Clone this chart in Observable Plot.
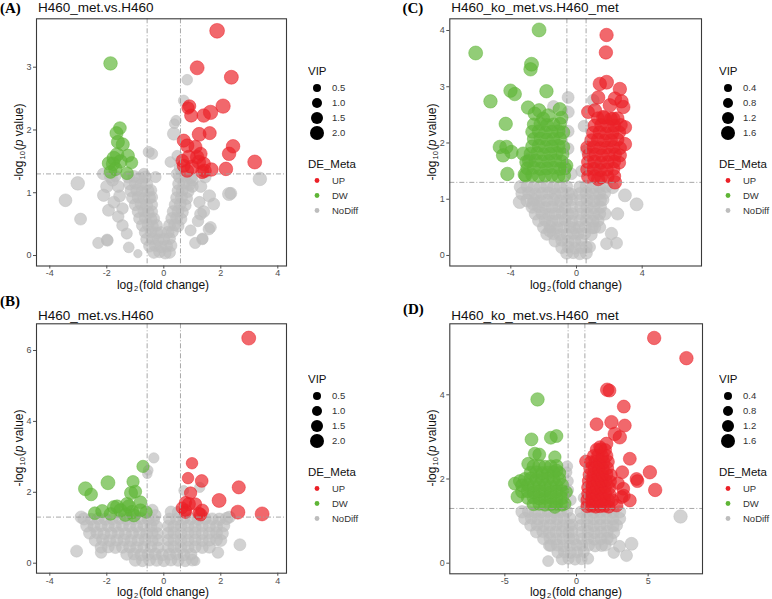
<!DOCTYPE html>
<html><head><meta charset="utf-8">
<script src="https://cdn.jsdelivr.net/npm/d3@7"></script>
<script src="https://cdn.jsdelivr.net/npm/@observablehq/plot@0.6"></script>
<style>
body{margin:0;background:#fff;font-family:"Liberation Sans",Arial,Helvetica,sans-serif;}
#root{position:relative;width:772px;height:599px;overflow:hidden;background:#fff;}
.abs{position:absolute;white-space:nowrap;line-height:1;}
.plab{font-family:"Liberation Serif","Times New Roman",serif;font-weight:bold;font-size:15px;color:#000;transform:translateY(-50%);}
.ttl{font-size:13.5px;color:#111;transform:translateY(-50%);}
.xl{font-size:12px;color:#111;transform:translate(-50%,-50%);}
.yl{font-size:12px;color:#111;transform:translate(-50%,-50%) rotate(-90deg);}
sub{font-size:7.5px;vertical-align:-2px;margin:0 1px;}
</style></head><body><div id="root"></div>
<script>
// ---------- shared ----------
const FC_CUTOFFS = [-0.585, 0.585];
const P_CUTOFF = [1.3];
const DE_LEVELS = ["UP", "DW", "NoDiff"];
const DE_COLORS = ["#EB2027", "#5FB536", "#BDBDBD"];

// ---------- Panel A ----------
const A_TITLE = "H460_met.vs.H460";
const A_X_TICKS = [-4, -2, 0, 2, 4];
const A_Y_TICKS = [0, 1, 2, 3];
const A_VIP_TICKS = [0.5, 1.0, 1.5, 2.0];
const A_UP = [[1.87,3.58,2.2],[1.17,2.99,2.0],[2.37,2.84,2.0],[0.85,2.35,1.6],[0.9,2.38,1.7],[0.96,2.23,1.8],[1.40,2.23,1.9],[1.64,2.28,2.1],[2.08,2.38,2.1],[1.24,1.93,2.0],[1.61,1.95,1.8],[2.43,1.74,1.9],[2.29,1.62,1.9],[3.19,1.49,2.0],[2.18,1.38,1.9],[0.70,1.83,1.8],[0.82,1.75,1.9],[0.88,1.57,1.9],[1.17,1.57,1.9],[1.23,1.49,1.9],[0.70,1.43,1.8],[0.99,1.41,2.0],[1.40,1.46,1.9],[1.67,1.37,1.9],[1.35,1.33,1.8],[1.11,1.73,1.8],[1.29,1.62,1.8],[1.43,1.35,1.9],[0.65,1.51,1.7],[0.82,1.35,1.8]];
const A_DW = [[-1.87,3.06,1.9],[-1.54,2.03,1.7],[-1.66,1.95,1.8],[-1.61,1.81,1.8],[-1.44,1.77,1.8],[-1.64,1.61,1.9],[-1.26,1.59,1.8],[-1.78,1.46,1.9],[-1.93,1.47,1.8],[-1.52,1.50,1.9],[-1.13,1.48,1.6],[-1.70,1.38,1.9],[-1.29,1.31,1.7],[-1.87,1.33,1.7],[-1.75,1.55,2.0]];
const A_NODIFF = [[-3.02,1.15,1.9],[-3.45,0.88,1.7],[-2.92,0.58,1.5],[-2.30,0.20,1.3],[-1.99,0.25,1.4],[-1.23,0.13,1.2],[-0.91,0.03,0.6],[3.37,1.22,1.9],[2.29,0.98,1.8],[1.35,0.26,1.3],[1.58,0.42,1.4],[1.29,0.66,1.5],[0.82,2.80,1.2],[0.70,2.47,1.2],[0.43,2.15,1.1],[0.37,2.10,1.0],[0.35,1.94,1.7],[-0.53,1.65,1.3],[-0.41,1.62,1.3],[0.47,1.59,1.2],[0.23,1.49,1.2],[-2.13,1.30,1.4],[-1.87,1.25,1.5],[-0.70,1.30,1.3],[-0.29,1.25,1.3],[0.55,1.4,1.2],[0.45,1.3,1.2],
[-2.11,0.96,1.6],[-1.94,0.72,1.5],[-1.75,0.85,1.5],[-1.6,1.1,1.5],[-1.45,0.48,1.4],[-1.98,0.24,1.4],[-1.8,1.2,1.5],[-2.0,1.1,1.6],[-1.6,0.62,1.4],[-1.3,0.35,1.3],[-1.55,0.95,1.5],[-1.7,1.27,1.4],[-1.45,0.75,1.4],
[2.35,0.99,1.5],[1.4,0.7,1.5],[1.6,0.95,1.6],[1.75,0.82,1.5],[1.64,0.45,1.4],[1.36,0.27,1.3],[0.94,0.4,1.3],[1.3,1.1,1.5],[1.45,1.25,1.5],[1.2,0.55,1.4],[1.25,0.85,1.4],[1.1,0.2,1.3],
[-1.25,1.25,1.5],[-1.05,1.26,1.5],[-0.85,1.24,1.5],[-0.65,1.25,1.5],
[-1.2,1.14,1.5],[-1.0,1.15,1.5],[-0.8,1.13,1.5],[-0.6,1.14,1.5],
[-1.15,1.03,1.5],[-0.95,1.04,1.5],[-0.75,1.02,1.5],[-0.55,1.03,1.5],[-0.45,1.04,1.4],
[-1.1,0.92,1.5],[-0.9,0.93,1.5],[-0.7,0.91,1.5],[-0.5,0.92,1.5],[-0.42,0.93,1.4],
[-1.0,0.81,1.5],[-0.8,0.82,1.5],[-0.6,0.8,1.5],[-0.42,0.81,1.4],
[-0.9,0.7,1.5],[-0.7,0.71,1.5],[-0.55,0.69,1.5],[-0.42,0.7,1.4],
[-0.85,0.59,1.5],[-0.65,0.6,1.5],[-0.45,0.58,1.5],[-0.35,0.59,1.4],
[-0.75,0.48,1.5],[-0.55,0.49,1.5],[-0.4,0.47,1.5],[-0.25,0.48,1.4],
[-0.65,0.37,1.5],[-0.45,0.38,1.5],[-0.25,0.36,1.5],[-0.1,0.37,1.4],
[-0.6,0.26,1.5],[-0.4,0.27,1.5],[-0.2,0.25,1.5],[0.0,0.26,1.5],[0.2,0.27,1.5],
[-0.5,0.15,1.5],[-0.3,0.16,1.5],[-0.1,0.14,1.5],[0.1,0.15,1.5],[0.25,0.16,1.5],
[-0.35,0.05,1.5],[-0.15,0.06,1.5],[0.05,0.04,1.5],[0.2,0.05,1.5],
[0.55,1.25,1.5],[0.75,1.26,1.5],[0.95,1.24,1.5],[1.0,1.2,1.5],
[0.52,1.14,1.5],[0.7,1.15,1.5],[0.9,1.13,1.5],[1.0,1.1,1.5],
[0.5,1.03,1.5],[0.65,1.04,1.5],[0.85,1.02,1.5],
[0.45,0.92,1.5],[0.62,0.93,1.5],[0.8,0.91,1.5],
[0.4,0.81,1.5],[0.58,0.82,1.5],[0.75,0.8,1.5],
[0.33,0.7,1.5],[0.5,0.71,1.5],[0.65,0.69,1.5],
[0.28,0.59,1.5],[0.45,0.6,1.5],[0.6,0.58,1.5],
[0.2,0.48,1.5],[0.38,0.49,1.5],[0.5,0.47,1.5],
[0.15,0.37,1.5],[0.3,0.38,1.5]];

// ---------- Panel B ----------
const B_TITLE = "H460_met.vs.H460";
const B_X_TICKS = [-4, -2, 0, 2, 4];
const B_Y_TICKS = [0, 2, 4, 6];
const B_VIP_TICKS = [0.5, 1.0, 1.5, 2.0];
const B_UP = [[2.98,6.35,2.0],[0.99,2.82,1.4],[0.85,2.40,1.4],[1.33,2.32,1.7],[2.63,2.14,1.8],[0.94,1.98,1.6],[1.94,1.77,2.0],[0.76,1.71,1.6],[0.88,1.67,1.8],[1.11,1.67,1.6],[0.64,1.56,1.5],[0.76,1.49,1.6],[1.35,1.49,1.7],[1.23,1.41,1.6],[2.60,1.44,2.0],[3.45,1.39,2.0],[1.29,1.37,1.7],[0.76,1.43,1.5]];
const B_DW = [[-0.73,2.73,1.6],[-1.96,2.27,2.0],[-1.08,2.30,1.6],[-2.75,2.10,2.0],[-2.55,1.94,1.7],[-1.15,1.98,1.8],[-1.0,2.02,1.7],[-1.75,1.58,1.8],[-1.29,1.67,1.8],[-0.82,1.72,1.7],[-2.42,1.41,1.7],[-2.16,1.47,1.8],[-1.52,1.49,1.9],[-1.11,1.44,1.9],[-0.62,1.44,1.6],[-1.87,1.39,1.7],[-1.35,1.37,1.9],[-1.05,1.35,1.8],[-0.82,1.49,1.8],[-1.64,1.60,1.8],[-1.23,1.60,1.9]];
const B_NODIFF = [[-0.35,2.97,1.1],[-0.58,2.52,0.9],[-0.55,2.62,1.0],[1.26,2.14,1.1],[0.7,2.05,1.0],[-0.4,1.5,1.4],[-0.3,1.35,1.4],[-3.06,0.34,1.5],[2.67,0.52,1.5],[1.11,0.06,0.8],[-2.9,1.3,1.6],[2.3,1.3,1.5],[-2.2,0.3,1.4],[1.9,0.3,1.4],
[-2.8,1.25,1.6],[-2.55,1.24,1.5],[-2.3,1.26,1.5],[-2.05,1.24,1.5],[-1.8,1.25,1.5],[-1.55,1.26,1.5],[-1.3,1.24,1.5],[-1.05,1.25,1.5],[-0.8,1.26,1.5],[-0.55,1.24,1.5],[-0.35,1.22,1.4],
[-2.7,1.05,1.6],[-2.45,1.04,1.5],[-2.2,1.06,1.5],[-1.95,1.05,1.5],[-1.7,1.04,1.5],[-1.45,1.06,1.5],[-1.2,1.05,1.5],[-0.95,1.04,1.5],[-0.7,1.06,1.5],[-0.45,1.05,1.5],[-0.25,1.04,1.4],
[-2.6,0.85,1.6],[-2.35,0.86,1.5],[-2.1,0.84,1.5],[-1.85,0.85,1.5],[-1.6,0.86,1.5],[-1.35,0.84,1.5],[-1.1,0.85,1.5],[-0.85,0.86,1.5],[-0.6,0.84,1.5],[-0.4,0.85,1.4],[-0.22,0.84,1.4],
[-2.4,0.65,1.6],[-2.15,0.66,1.5],[-1.9,0.64,1.5],[-1.65,0.65,1.5],[-1.4,0.66,1.5],[-1.15,0.64,1.5],[-0.9,0.65,1.5],[-0.65,0.66,1.5],[-0.4,0.64,1.4],[-0.2,0.65,1.4],
[-2.2,0.45,1.5],[-1.95,0.46,1.5],[-1.7,0.44,1.5],[-1.45,0.45,1.5],[-1.2,0.46,1.5],[-0.95,0.44,1.5],[-0.7,0.45,1.5],[-0.45,0.46,1.4],[-0.2,0.44,1.4],
[-1.3,0.25,1.5],[-1.05,0.26,1.5],[-0.8,0.24,1.5],[-0.55,0.25,1.5],[-0.3,0.26,1.5],[-0.05,0.24,1.5],[0.2,0.25,1.5],[0.45,0.26,1.5],[0.7,0.24,1.5],[0.95,0.25,1.5],
[-1.0,0.08,1.5],[-0.75,0.07,1.5],[-0.5,0.09,1.5],[-0.25,0.08,1.5],[0.0,0.07,1.5],[0.25,0.09,1.5],[0.5,0.08,1.5],[0.75,0.07,1.5],[1.0,0.09,1.5],
[0.25,1.45,1.4],[0.5,1.44,1.4],
[0.2,1.25,1.5],[0.45,1.24,1.5],[0.7,1.26,1.5],[0.95,1.25,1.5],[1.2,1.24,1.5],[1.45,1.26,1.5],[1.7,1.25,1.5],[1.95,1.24,1.6],[2.2,1.26,1.6],
[0.15,1.05,1.4],[0.35,1.04,1.5],[0.6,1.06,1.5],[0.85,1.05,1.5],[1.1,1.04,1.5],[1.35,1.06,1.5],[1.6,1.05,1.5],[1.85,1.04,1.5],[2.1,1.06,1.6],
[0.15,0.85,1.4],[0.35,0.86,1.5],[0.6,0.84,1.5],[0.85,0.85,1.5],[1.1,0.86,1.5],[1.35,0.84,1.5],[1.6,0.85,1.5],[1.85,0.86,1.5],[2.05,0.84,1.6],
[0.15,0.65,1.4],[0.35,0.66,1.5],[0.6,0.64,1.5],[0.85,0.65,1.5],[1.1,0.66,1.5],[1.35,0.64,1.5],[1.6,0.65,1.5],[1.85,0.66,1.5],[2.0,0.64,1.5],
[0.15,0.45,1.4],[0.35,0.46,1.5],[0.6,0.44,1.5],[0.85,0.45,1.5],[1.1,0.46,1.5],[1.35,0.44,1.5],[1.6,0.45,1.5]];

// ---------- Panel C ----------
const C_TITLE = "H460_ko_met.vs.H460_met";
const C_X_TICKS = [-4, 0, 4];
const C_Y_TICKS = [0, 1, 2, 3, 4];
const C_VIP_TICKS = [0.4, 0.8, 1.2, 1.6];
const C_UP = [[1.83,3.92,1.5],[1.79,3.61,1.5],[1.42,3.05,1.5],[1.83,3.08,1.6],[2.64,2.96,1.5],[1.32,2.81,1.5],[2.34,2.79,1.5],[2.74,2.74,1.5],[2.03,2.67,1.5],[2.85,2.64,1.5],[1.12,2.58,1.5],[0.7,2.55,1.4],[2.95,2.28,1.5],[2.95,1.98,1.5],[2.34,1.30,1.5],[1.32,1.36,1.5],[1.63,2.46,1.5],[2.24,2.43,1.5],
[0.7,1.4,1.4],[1.1,1.41,1.4],[1.5,1.39,1.4],[1.9,1.4,1.4],[2.3,1.41,1.4],
[0.65,1.53,1.4],[1.05,1.54,1.4],[1.45,1.52,1.4],[1.85,1.53,1.4],[2.25,1.54,1.4],
[0.7,1.66,1.4],[1.1,1.67,1.4],[1.5,1.65,1.4],[1.9,1.66,1.4],[2.3,1.67,1.4],[2.6,1.65,1.4],
[0.75,1.79,1.4],[1.15,1.8,1.4],[1.55,1.78,1.4],[1.95,1.79,1.4],[2.35,1.8,1.4],[2.65,1.78,1.4],
[0.65,1.92,1.4],[1.05,1.93,1.4],[1.45,1.91,1.4],[1.85,1.92,1.4],[2.25,1.93,1.4],[2.65,1.91,1.4],
[0.9,2.05,1.4],[1.3,2.06,1.4],[1.7,2.04,1.4],[2.1,2.05,1.4],[2.5,2.06,1.4],
[1.0,2.18,1.4],[1.4,2.19,1.4],[1.8,2.17,1.4],[2.2,2.18,1.4],[2.6,2.19,1.4],
[1.1,2.31,1.4],[1.5,2.32,1.4],[1.9,2.3,1.4],[2.3,2.31,1.4],[2.7,2.32,1.4],
[1.3,2.44,1.4],[1.7,2.45,1.4],[2.1,2.43,1.4],[2.5,2.44,1.4]];
const C_DW = [[-2.28,4.01,1.6],[-6.14,3.60,1.6],[-2.74,3.40,1.6],[-2.80,3.31,1.5],[-4.02,2.93,1.5],[-3.76,2.87,1.5],[-1.83,2.92,1.5],[-5.24,2.74,1.5],[-2.95,2.63,1.5],[-2.28,2.58,1.5],[-1.02,2.60,1.5],[-4.31,2.34,1.5],[-2.03,2.43,1.5],[-0.91,2.45,1.4],[-4.67,1.93,1.5],[-4.27,1.93,1.5],[-3.96,1.84,1.5],[-3.25,1.81,1.5],[-4.47,1.78,1.5],[-3.05,1.66,1.5],[-4.21,1.45,1.5],[-3.15,1.44,1.5],[-2.54,2.52,1.5],[-1.73,2.49,1.5],[-0.61,1.60,1.4],
[-3.1,1.42,1.4],[-2.7,1.43,1.4],[-2.3,1.41,1.4],[-1.9,1.42,1.4],[-1.5,1.43,1.4],[-1.1,1.41,1.4],[-0.75,1.42,1.4],
[-3.0,1.55,1.4],[-2.6,1.56,1.4],[-2.2,1.54,1.4],[-1.8,1.55,1.4],[-1.4,1.56,1.4],[-1.0,1.54,1.4],[-0.7,1.55,1.4],
[-2.9,1.68,1.4],[-2.5,1.69,1.4],[-2.1,1.67,1.4],[-1.7,1.68,1.4],[-1.3,1.69,1.4],[-0.9,1.67,1.4],
[-2.8,1.81,1.4],[-2.4,1.82,1.4],[-2.0,1.8,1.4],[-1.6,1.81,1.4],[-1.2,1.82,1.4],[-0.85,1.8,1.4],
[-2.7,1.94,1.4],[-2.3,1.95,1.4],[-1.9,1.93,1.4],[-1.5,1.94,1.4],[-1.1,1.95,1.4],[-0.8,1.93,1.4],
[-2.6,2.07,1.4],[-2.2,2.08,1.4],[-1.8,2.06,1.4],[-1.4,2.07,1.4],[-1.0,2.08,1.4],
[-2.7,2.2,1.4],[-2.3,2.21,1.4],[-1.9,2.19,1.4],[-1.5,2.2,1.4],[-1.1,2.21,1.4],[-0.8,2.19,1.4],
[-2.6,2.33,1.4],[-2.2,2.34,1.4],[-1.8,2.32,1.4],[-1.4,2.33,1.4],[-1.0,2.34,1.4]];
const C_NODIFF = [[-3.46,0.95,1.4],[-2.64,0.92,1.4],[-1.63,0.44,1.3],[-2.85,1.72,1.3],[0.81,0.15,1.1],[1.73,0.74,1.3],[1.42,0.5,1.2],[2.13,0.39,1.3],[1.83,0.21,1.2],[2.44,0.22,1.2],[2.2,1.21,1.3],[2.95,1.07,1.4],[3.66,0.91,1.4],[2.5,0.74,1.3],
[-0.51,2.81,1.2],[-0.5,2.55,1.2],[-1.4,2.65,1.2],[1.02,2.76,1.2],[-0.51,2.21,1.2],[-0.5,1.9,1.1],[0.6,1.87,1.1],[1.26,1.57,1.2],[0.3,1.5,1.1],[-0.3,1.45,1.1],[0.45,2.3,1.1],
[-3.4,1.22,1.4],[-3.0,1.23,1.3],[-2.6,1.21,1.3],[-2.2,1.22,1.3],[-1.8,1.23,1.3],[-1.4,1.21,1.3],[-1.0,1.22,1.3],[-0.6,1.23,1.2],
[-3.3,1.1,1.4],[-2.9,1.11,1.3],[-2.5,1.09,1.3],[-2.1,1.1,1.3],[-1.7,1.11,1.3],[-1.3,1.09,1.3],[-0.9,1.1,1.3],[-0.5,1.11,1.2],[-0.3,1.09,1.2],
[-3.0,0.98,1.4],[-2.6,0.99,1.3],[-2.2,0.97,1.3],[-1.8,0.98,1.3],[-1.4,0.99,1.3],[-1.0,0.97,1.3],[-0.6,0.98,1.2],[-0.3,0.99,1.2],
[-2.7,0.86,1.3],[-2.3,0.87,1.3],[-1.9,0.85,1.3],[-1.5,0.86,1.3],[-1.1,0.87,1.3],[-0.7,0.85,1.2],[-0.3,0.86,1.2],
[-2.5,0.74,1.3],[-2.1,0.75,1.3],[-1.7,0.73,1.3],[-1.3,0.74,1.3],[-0.9,0.75,1.2],[-0.5,0.73,1.2],[-0.25,0.74,1.2],
[-2.3,0.62,1.3],[-1.9,0.63,1.3],[-1.5,0.61,1.3],[-1.1,0.62,1.3],[-0.7,0.63,1.2],[-0.3,0.61,1.2],
[-2.0,0.5,1.3],[-1.6,0.51,1.3],[-1.2,0.49,1.3],[-0.8,0.5,1.2],[-0.4,0.51,1.2],[-0.15,0.49,1.2],
[-1.8,0.38,1.3],[-1.4,0.39,1.3],[-1.0,0.37,1.2],[-0.6,0.38,1.2],[-0.2,0.39,1.2],
[-1.3,0.26,1.3],[-0.9,0.27,1.2],[-0.5,0.25,1.2],[-0.1,0.26,1.2],[0.3,0.27,1.2],
[-0.9,0.14,1.2],[-0.5,0.15,1.2],[-0.1,0.13,1.2],[0.3,0.14,1.2],[0.6,0.15,1.2],
[-0.6,0.04,1.2],[-0.2,0.05,1.2],[0.2,0.03,1.2],[0.6,0.04,1.2],
[0.2,1.22,1.2],[0.6,1.23,1.3],[1.0,1.21,1.3],[1.4,1.22,1.3],[1.8,1.23,1.3],
[0.2,1.1,1.2],[0.6,1.11,1.3],[1.0,1.09,1.3],[1.4,1.1,1.3],[1.7,1.11,1.3],
[0.25,0.98,1.2],[0.65,0.99,1.3],[1.05,0.97,1.3],[1.45,0.98,1.3],[1.6,0.99,1.3],
[0.25,0.86,1.2],[0.65,0.87,1.3],[1.05,0.85,1.3],[1.45,0.86,1.3],
[0.25,0.74,1.2],[0.65,0.75,1.2],[1.05,0.73,1.3],[1.4,0.74,1.3],
[0.2,0.62,1.2],[0.6,0.63,1.2],[1.0,0.61,1.3],[1.3,0.62,1.3],
[0.15,0.5,1.2],[0.55,0.51,1.2],[0.95,0.49,1.2],[1.1,0.5,1.3],
[0.1,0.38,1.2],[0.5,0.39,1.2],[0.9,0.37,1.2]];

// ---------- Panel D ----------
const D_TITLE = "H460_ko_met.vs.H460_met";
const D_X_TICKS = [-5, 0, 5];
const D_Y_TICKS = [0, 2, 4];
const D_VIP_TICKS = [0.4, 0.8, 1.2, 1.6];
const D_UP = [[5.42,5.35,1.5],[7.67,4.87,1.5],[2.14,4.12,1.5],[2.3,4.1,1.4],[3.30,3.72,1.4],[2.44,3.35,1.5],[3.37,3.27,1.4],[1.40,3.30,1.4],[2.67,3.07,1.5],[3.02,2.99,1.5],[2.09,2.84,1.4],[1.63,2.76,1.3],[3.72,2.48,1.4],[0.65,2.42,1.3],[3.19,2.16,1.4],[5.12,2.16,1.5],[4.19,2.00,1.4],[4.25,1.95,1.4],[5.49,1.74,1.5],[3.26,1.77,1.4],[3.72,1.49,1.4],[3.14,1.57,1.4],[2.79,1.37,1.4],[3.3,1.6,1.4],[2.9,1.9,1.3],
[0.75,1.35,1.35],[1.05,1.36,1.35],[1.35,1.34,1.35],[1.65,1.35,1.35],[1.95,1.36,1.35],[2.25,1.34,1.35],
[0.75,1.5,1.35],[1.05,1.51,1.35],[1.35,1.49,1.35],[1.65,1.5,1.35],[1.95,1.51,1.35],[2.25,1.49,1.35],[2.5,1.5,1.35],
[0.8,1.65,1.35],[1.1,1.66,1.35],[1.4,1.64,1.35],[1.7,1.65,1.35],[2.0,1.66,1.35],[2.3,1.64,1.35],
[0.8,1.8,1.35],[1.1,1.81,1.35],[1.4,1.79,1.35],[1.7,1.8,1.35],[2.0,1.81,1.35],[2.3,1.79,1.35],
[0.85,1.95,1.35],[1.15,1.96,1.35],[1.45,1.94,1.35],[1.75,1.95,1.35],[2.05,1.96,1.35],[2.35,1.94,1.35],
[0.9,2.1,1.35],[1.2,2.11,1.35],[1.5,2.09,1.35],[1.8,2.1,1.35],[2.1,2.11,1.35],[2.4,2.09,1.35],
[0.95,2.25,1.35],[1.25,2.26,1.35],[1.55,2.24,1.35],[1.85,2.25,1.35],[2.15,2.26,1.35],
[1.0,2.4,1.35],[1.3,2.41,1.35],[1.6,2.39,1.35],[1.9,2.4,1.35],[2.2,2.41,1.35],
[1.2,2.55,1.35],[1.5,2.56,1.35],[1.8,2.54,1.35],[2.1,2.55,1.35],
[1.4,2.7,1.35],[1.7,2.71,1.35],[2.0,2.69,1.35]];
const D_DW = [[-2.72,3.89,1.5],[-3.14,2.94,1.4],[-1.79,2.98,1.4],[-1.40,3.02,1.4],[-2.91,2.60,1.4],[-2.60,2.58,1.4],[-1.51,2.52,1.3],[-3.37,2.36,1.4],[-4.30,1.89,1.4],[-4.12,1.58,1.4],[-0.81,1.41,1.3],[-0.70,1.69,1.2],[-1.51,1.33,1.3],[-3.95,1.95,1.4],[-1.4,2.2,1.4],
[-3.0,1.4,1.4],[-2.6,1.41,1.4],[-2.2,1.39,1.4],[-1.8,1.4,1.4],[-1.4,1.41,1.4],[-1.0,1.39,1.4],
[-3.4,1.55,1.4],[-3.0,1.56,1.4],[-2.6,1.54,1.4],[-2.2,1.55,1.4],[-1.8,1.56,1.4],[-1.4,1.54,1.4],[-1.0,1.55,1.4],
[-3.8,1.7,1.4],[-3.4,1.71,1.4],[-3.0,1.69,1.4],[-2.6,1.7,1.4],[-2.2,1.71,1.4],[-1.8,1.69,1.4],[-1.4,1.7,1.4],[-1.0,1.71,1.4],
[-3.8,1.85,1.4],[-3.4,1.86,1.4],[-3.0,1.84,1.4],[-2.6,1.85,1.4],[-2.2,1.86,1.4],[-1.8,1.84,1.4],[-1.4,1.85,1.4],[-1.0,1.86,1.4],
[-3.6,2.0,1.4],[-3.2,2.01,1.4],[-2.8,1.99,1.4],[-2.4,2.0,1.4],[-2.0,2.01,1.4],[-1.6,1.99,1.4],[-1.2,2.0,1.4],
[-3.2,2.15,1.4],[-2.8,2.16,1.4],[-2.4,2.14,1.4],[-2.0,2.15,1.4],[-1.6,2.16,1.4],[-1.2,2.14,1.4],
[-3.0,2.3,1.4],[-2.6,2.31,1.4],[-2.2,2.29,1.4],[-1.8,2.3,1.4],[-1.4,2.31,1.4]];
const D_NODIFF = [[7.26,1.11,1.5],[3.84,0.46,1.4],[3.49,0.18,1.2],[-1.98,0.05,1.0],[-1.91,0.42,1.1],[-0.7,2.16,1.0],[-0.58,1.74,1.0],[-0.65,2.3,1.0],[-0.4,1.5,1.0],[-0.6,1.95,1.0],[0.7,1.41,1.0],[0.5,1.55,1.0],[3.0,0.4,1.2],[2.6,0.25,1.1],
[-3.8,1.22,1.3],[-3.35,1.23,1.2],[-2.9,1.21,1.2],[-2.45,1.22,1.2],[-2.0,1.23,1.2],[-1.55,1.21,1.2],[-1.1,1.22,1.2],[-0.65,1.23,1.1],
[-3.6,1.06,1.3],[-3.15,1.07,1.2],[-2.7,1.05,1.2],[-2.25,1.06,1.2],[-1.8,1.07,1.2],[-1.35,1.05,1.2],[-0.9,1.06,1.2],[-0.45,1.07,1.1],
[-3.2,0.9,1.2],[-2.75,0.91,1.2],[-2.3,0.89,1.2],[-1.85,0.9,1.2],[-1.4,0.91,1.2],[-0.95,0.89,1.2],[-0.5,0.9,1.1],[-0.3,0.91,1.1],
[-2.8,0.74,1.2],[-2.35,0.75,1.2],[-1.9,0.73,1.2],[-1.45,0.74,1.2],[-1.0,0.75,1.2],[-0.55,0.73,1.1],[-0.3,0.74,1.1],
[-2.3,0.58,1.2],[-1.85,0.59,1.2],[-1.4,0.57,1.2],[-0.95,0.58,1.2],[-0.5,0.59,1.1],[-0.2,0.57,1.1],
[-1.8,0.42,1.2],[-1.35,0.43,1.2],[-0.9,0.41,1.2],[-0.45,0.42,1.1],[0.0,0.43,1.1],
[-1.3,0.26,1.2],[-0.85,0.27,1.2],[-0.4,0.25,1.1],[0.05,0.26,1.1],[0.5,0.27,1.1],
[-1.0,0.1,1.2],[-0.55,0.11,1.1],[-0.1,0.09,1.1],[0.35,0.1,1.1],[0.8,0.11,1.1],
[0.3,1.22,1.1],[0.75,1.23,1.2],[1.2,1.21,1.2],[1.65,1.22,1.2],[2.1,1.23,1.2],[2.55,1.21,1.2],[3.0,1.22,1.3],
[0.3,1.06,1.1],[0.75,1.07,1.2],[1.2,1.05,1.2],[1.65,1.06,1.2],[2.1,1.07,1.2],[2.55,1.05,1.2],[3.0,1.06,1.3],
[0.3,0.9,1.1],[0.75,0.91,1.2],[1.2,0.89,1.2],[1.65,0.9,1.2],[2.1,0.91,1.2],[2.55,0.89,1.2],[2.8,0.9,1.2],
[0.35,0.74,1.1],[0.8,0.75,1.2],[1.25,0.73,1.2],[1.7,0.74,1.2],[2.15,0.75,1.2],[2.6,0.73,1.2],
[0.35,0.58,1.1],[0.8,0.59,1.2],[1.25,0.57,1.2],[1.7,0.58,1.2],[2.15,0.59,1.2],[2.4,0.57,1.2],
[0.4,0.42,1.1],[0.85,0.43,1.2],[1.3,0.41,1.2],[1.75,0.42,1.2],[2.0,0.43,1.2]];

// ---------- layout ----------
const root = document.getElementById("root");
function addDiv(cls, html, left, top){
  const d = document.createElement("div");
  d.className = "abs " + cls; d.innerHTML = html;
  d.style.left = left + "px"; d.style.top = top + "px";
  root.appendChild(d); return d;
}
const toObj = arr => arr.map(([x, y, vip]) => ({x, y, vip}));

function panel(p){
  const rOpt = {type: "linear", domain: [p.vip[0], p.vip[p.vip.length - 1]], range: [4, 7]};
  const dotOpts = (c) => ({x: "x", y: "y", r: "vip", fill: c, fillOpacity: 0.68, stroke: c, strokeOpacity: 0.8, strokeWidth: 0.6});
  const lineStyle = {stroke: "#9e9e9e", strokeWidth: 0.9, strokeDasharray: "5,2,1,2"};
  const chart = Plot.plot({
    width: p.fr + 4, height: p.fb + 16,
    marginLeft: p.fl, marginTop: p.ft, marginRight: 4, marginBottom: 16,
    x: {domain: p.xd}, y: {domain: p.yd}, r: rOpt,
    style: {fontFamily: "Liberation Sans, Arial, sans-serif", background: "transparent", overflow: "visible"},
    marks: [
      Plot.dot(toObj(p.nodiff), dotOpts(DE_COLORS[2])),
      Plot.dot(toObj(p.dw), dotOpts(DE_COLORS[1])),
      Plot.dot(toObj(p.up), dotOpts(DE_COLORS[0])),
      Plot.ruleX(FC_CUTOFFS, lineStyle),
      Plot.ruleY(P_CUTOFF, lineStyle),
      Plot.frame({stroke: "#3a3a3a", strokeWidth: 1.1}),
      Plot.axisX({ticks: p.xt, tickSize: 3, tickPadding: 1, fontSize: 9, color: "#4d4d4d", label: null, tickFormat: d => String(d)}),
      Plot.axisY({ticks: p.yt, tickSize: 3, tickPadding: 2, fontSize: 9, color: "#4d4d4d", label: null, tickFormat: d => String(d)})
    ]
  });
  chart.style.position = "absolute";
  chart.style.left = p.ox + "px"; chart.style.top = p.oy + "px";
  root.appendChild(chart);

  addDiv("plab", p.tag, p.ox + p.tagx, p.oy + p.tagy);
  addDiv("ttl", p.title, p.ox + p.fl + 2, p.oy + p.titley);
  addDiv("xl", "log<sub>2</sub>(fold change)", p.ox + p.xlx, p.oy + p.xly);
  addDiv("yl", "-log<sub>10</sub>(<i>p</i> value)", p.ox + p.ylx, p.oy + (p.ft + p.fb) / 2);

  // legend
  const rs = Plot.scale({r: rOpt});
  const L = p.leg;
  const svg = d3.create("svg").attr("width", 90).attr("height", 170)
    .style("position", "absolute").style("left", (p.ox + L.x) + "px").style("top", (p.oy + L.y) + "px")
    .style("font-family", "Liberation Sans, Arial, sans-serif");
  svg.append("text").attr("x", 0).attr("y", 16).attr("dy", "0.35em").attr("font-size", 11.5).attr("fill", "#111").text("VIP");
  p.vip.forEach((v, i) => {
    const cy = 33 + i * 15;
    svg.append("circle").attr("cx", 9).attr("cy", cy).attr("r", rs.apply(v)).attr("fill", "#000");
    svg.append("text").attr("x", 24).attr("y", cy).attr("dy", "0.35em").attr("font-size", 9.5).attr("fill", "#333").text(v.toFixed(1));
  });
  svg.append("text").attr("x", 0).attr("y", 109).attr("dy", "0.35em").attr("font-size", 11.5).attr("fill", "#111").text("DE_Meta");
  DE_LEVELS.forEach((lv, i) => {
    const cy = 125.5 + i * 15;
    svg.append("circle").attr("cx", 9).attr("cy", cy).attr("r", 2.4).attr("fill", DE_COLORS[i]);
    svg.append("text").attr("x", 24).attr("y", cy).attr("dy", "0.35em").attr("font-size", 9.5).attr("fill", "#333").text(lv);
  });
  root.appendChild(svg.node());
}

panel({tag: "(A)", title: A_TITLE, ox: 0, oy: 0, fl: 36, ft: 18.3, fr: 286, fb: 265.5,
  xd: [-4.467, 4.305], yd: [-0.167, 3.771], xt: A_X_TICKS, yt: A_Y_TICKS, vip: A_VIP_TICKS,
  up: A_UP, dw: A_DW, nodiff: A_NODIFF, tagx: 0, tagy: 7.5, titley: 7.5, xlx: 163, xly: 286, ylx: 20,
  leg: {x: 308, y: 55}});
panel({tag: "(B)", title: B_TITLE, ox: 0, oy: 290, fl: 36, ft: 33.3, fr: 286, fb: 282.7,
  xd: [-4.467, 4.305], yd: [-0.282, 6.753], xt: B_X_TICKS, yt: B_Y_TICKS, vip: B_VIP_TICKS,
  up: B_UP, dw: B_DW, nodiff: B_NODIFF, tagx: 0, tagy: 10.5, titley: 25.5, xlx: 163, xly: 303, ylx: 20,
  leg: {x: 308, y: 73.3}});
panel({tag: "(C)", title: C_TITLE, ox: 386, oy: 0, fl: 63.3, ft: 18.3, fr: 315, fb: 265.5,
  xd: [-7.716, 7.613], yd: [-0.187, 4.208], xt: C_X_TICKS, yt: C_Y_TICKS, vip: C_VIP_TICKS,
  up: C_UP, dw: C_DW, nodiff: C_NODIFF, tagx: 16.5, tagy: 7.5, titley: 7.5, xlx: 190, xly: 286, ylx: 47,
  leg: {x: 333, y: 55}});
panel({tag: "(D)", title: D_TITLE, ox: 386, oy: 290, fl: 63.3, ft: 33.3, fr: 316, fb: 283.3,
  xd: [-8.842, 8.793], yd: [-0.252, 5.686], xt: D_X_TICKS, yt: D_Y_TICKS, vip: D_VIP_TICKS,
  up: D_UP, dw: D_DW, nodiff: D_NODIFF, tagx: 17, tagy: 18.5, titley: 25.5, xlx: 190, xly: 303, ylx: 47,
  leg: {x: 333, y: 73.3}});
</script></body></html>
